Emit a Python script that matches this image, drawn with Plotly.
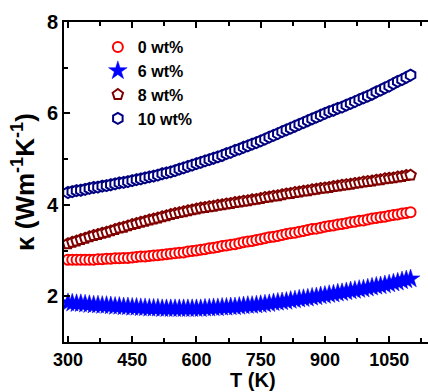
import plotly.graph_objects as go

T = [300, 310, 320, 330, 340, 350, 360, 370, 380, 390, 400, 410, 420, 430, 440, 450, 460, 470, 480, 490,
     500, 510, 520, 530, 540, 550, 560, 570, 580, 590, 600, 610, 620, 630, 640, 650, 660, 670, 680, 690,
     700, 710, 720, 730, 740, 750, 760, 770, 780, 790, 800, 810, 820, 830, 840, 850, 860, 870, 880, 890,
     900, 910, 920, 930, 940, 950, 960, 970, 980, 990, 1000, 1010, 1020, 1030, 1040, 1050, 1060, 1070, 1080, 1090, 1100]

k_0wt = [2.80, 2.80, 2.80, 2.80, 2.80, 2.80, 2.80, 2.81, 2.81, 2.82, 2.82, 2.83, 2.83, 2.84, 2.84, 2.85, 2.86, 2.87, 2.87, 2.88,
         2.89, 2.90, 2.91, 2.92, 2.93, 2.94, 2.95, 2.96, 2.98, 2.99, 3.00, 3.02, 3.03, 3.05, 3.06, 3.08, 3.10, 3.11, 3.13, 3.14,
         3.16, 3.18, 3.20, 3.21, 3.23, 3.25, 3.27, 3.29, 3.30, 3.32, 3.34, 3.36, 3.38, 3.39, 3.41, 3.43, 3.45, 3.47, 3.48, 3.50,
         3.52, 3.54, 3.55, 3.57, 3.58, 3.60, 3.62, 3.63, 3.65, 3.66, 3.68, 3.70, 3.71, 3.73, 3.74, 3.76, 3.78, 3.79, 3.81, 3.82, 3.84]

k_6wt = [1.86, 1.85, 1.84, 1.84, 1.83, 1.82, 1.81, 1.81, 1.80, 1.80, 1.79, 1.78, 1.78, 1.77, 1.77, 1.76, 1.76, 1.75, 1.75, 1.74,
         1.74, 1.74, 1.73, 1.73, 1.73, 1.73, 1.73, 1.73, 1.73, 1.73, 1.73, 1.73, 1.74, 1.74, 1.75, 1.75, 1.76, 1.76, 1.77, 1.77,
         1.78, 1.79, 1.80, 1.80, 1.81, 1.82, 1.83, 1.84, 1.86, 1.87, 1.88, 1.89, 1.91, 1.92, 1.94, 1.95, 1.96, 1.98, 1.99, 2.01,
         2.02, 2.04, 2.05, 2.07, 2.08, 2.10, 2.12, 2.13, 2.15, 2.16, 2.18, 2.20, 2.22, 2.23, 2.25, 2.27, 2.29, 2.31, 2.34, 2.36, 2.38]

k_8wt = [3.15, 3.18, 3.21, 3.24, 3.27, 3.30, 3.33, 3.35, 3.38, 3.40, 3.43, 3.46, 3.49, 3.51, 3.54, 3.57, 3.59, 3.62, 3.64, 3.67,
         3.69, 3.71, 3.74, 3.76, 3.79, 3.81, 3.83, 3.85, 3.87, 3.89, 3.91, 3.93, 3.94, 3.96, 3.97, 3.99, 4.00, 4.02, 4.03, 4.05,
         4.06, 4.08, 4.09, 4.11, 4.12, 4.14, 4.16, 4.17, 4.19, 4.20, 4.22, 4.24, 4.25, 4.27, 4.28, 4.30, 4.31, 4.33, 4.34, 4.36,
         4.37, 4.38, 4.40, 4.41, 4.43, 4.44, 4.45, 4.47, 4.48, 4.50, 4.51, 4.52, 4.54, 4.55, 4.57, 4.58, 4.59, 4.61, 4.62, 4.64, 4.65]

k_10wt = [4.27, 4.29, 4.31, 4.32, 4.34, 4.36, 4.38, 4.39, 4.41, 4.42, 4.44, 4.46, 4.48, 4.49, 4.51, 4.53, 4.55, 4.57, 4.59, 4.61,
          4.63, 4.65, 4.68, 4.70, 4.72, 4.75, 4.78, 4.81, 4.84, 4.87, 4.90, 4.93, 4.96, 4.99, 5.02, 5.05, 5.08, 5.12, 5.15, 5.19,
          5.22, 5.26, 5.29, 5.33, 5.36, 5.40, 5.44, 5.48, 5.52, 5.56, 5.60, 5.64, 5.68, 5.72, 5.76, 5.80, 5.84, 5.88, 5.92, 5.96,
          6.00, 6.04, 6.07, 6.11, 6.14, 6.18, 6.22, 6.26, 6.30, 6.34, 6.38, 6.42, 6.47, 6.51, 6.56, 6.60, 6.65, 6.70, 6.74, 6.79, 6.84]

series_names = ["0 wt%", "6 wt%", "8 wt%", "10 wt%"]
x_tick_vals = [300, 450, 600, 750, 900, 1050]
y_tick_vals = [2, 4, 6, 8]

FONT = "Liberation Sans, Arial, sans-serif"

fig = go.Figure()

styles = [
    (k_0wt, dict(symbol="circle", size=10, color="white", line=dict(color="#FF0000", width=2))),
    (k_6wt, dict(symbol="star", size=14, color="#0000FF", line=dict(color="#0000FF", width=0.5))),
    (k_8wt, dict(symbol="pentagon", size=11, color="white", line=dict(color="#800000", width=2))),
    (k_10wt, dict(symbol="hexagon", size=11, color="white", line=dict(color="#000080", width=2))),
]

for name, (vals, mk) in zip(series_names, styles):
    fig.add_trace(go.Scatter(x=T, y=vals, mode="markers", name=name, marker=mk))

fig.update_layout(
    width=428, height=392,
    margin=dict(l=64, r=0, t=22, b=50),
    paper_bgcolor="white", plot_bgcolor="white",
    font=dict(family=FONT, size=19, color="black", weight="bold"),
    showlegend=True,
    legend=dict(x=0.093, y=0.975, xanchor="left", yanchor="top",
                bgcolor="rgba(0,0,0,0)", borderwidth=0,
                font=dict(family=FONT, size=16, color="black", weight="bold"),
                tracegroupgap=0, itemsizing="trace"),
)

fig.update_xaxes(
    range=[290.7, 1140.7],
    tickmode="array", tickvals=x_tick_vals, ticktext=[str(v) for v in x_tick_vals],
    ticks="inside", ticklen=6, tickwidth=2, tickcolor="black",
    minor=dict(ticks="inside", ticklen=4, tickwidth=2, tickcolor="black", dtick=75, tick0=300),
    showline=True, linewidth=2, linecolor="black", mirror="ticks",
    showgrid=False, zeroline=False,
    tickfont=dict(family=FONT, size=18, color="black", weight="bold"),
)
fig.update_yaxes(
    range=[1, 8],
    tickmode="array", tickvals=y_tick_vals, ticktext=[str(v) for v in y_tick_vals],
    ticks="inside", ticklen=6, tickwidth=2, tickcolor="black",
    minor=dict(ticks="inside", ticklen=4, tickwidth=2, tickcolor="black", dtick=1, tick0=0),
    showline=True, linewidth=2, linecolor="black", mirror=False,
    showgrid=False, zeroline=False,
    tickfont=dict(family=FONT, size=20, color="black", weight="bold"),
)

fig.add_annotation(text="T (K)", xref="paper", yref="paper", x=0.52, y=0, yshift=-25,
                   xanchor="center", yanchor="top", showarrow=False,
                   font=dict(family=FONT, size=20, color="black", weight="bold"))
fig.add_annotation(text="κ (Wm<sup>-1</sup>K<sup>-1</sup>)", xref="paper", yref="paper",
                   x=0, xshift=-41, y=0.5, xanchor="center", yanchor="middle", textangle=-90,
                   showarrow=False, font=dict(family=FONT, size=26, color="black", weight="bold"))

fig.write_html("out.html", config={"displayModeBar": False},
               post_script="document.body.style.margin='0';document.body.style.overflow='hidden';")
